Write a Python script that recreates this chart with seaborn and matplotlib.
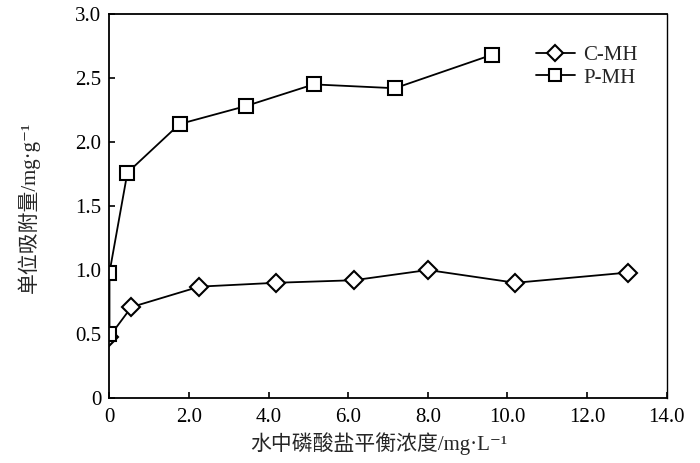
import matplotlib
matplotlib.use("Agg")
import matplotlib.pyplot as plt
import seaborn as sns
import pandas as pd

# ---- data ----
series_names = ["C-MH", "P-MH"]
c_x = [0.0, 0.55, 2.26, 4.18, 6.14, 8.0, 10.2, 13.03]
c_y = [0.48, 0.71, 0.87, 0.90, 0.92, 1.00, 0.90, 0.98]
p_x = [0.0, 0.0, 0.45, 1.76, 3.42, 5.13, 7.17, 9.6]
p_y = [0.50, 0.98, 1.76, 2.14, 2.28, 2.45, 2.42, 2.68]
x_ticks = [0, 2, 4, 6, 8, 10, 12, 14]
x_tick_labels = ["0", "2.0", "4.0", "6.0", "8.0", "10.0", "12.0", "14.0"]
y_ticks = [0, 0.5, 1.0, 1.5, 2.0, 2.5, 3.0]
y_tick_labels = ["0", "0.5", "1.0", "1.5", "2.0", "2.5", "3.0"]
x_label = "水中磷酸盐平衡浓度/mg·L⁻¹"
y_label = "单位吸附量/mg·g⁻¹"

df = pd.concat([
    pd.DataFrame({"x": c_x, "y": c_y, "series": series_names[0]}),
    pd.DataFrame({"x": p_x, "y": p_y, "series": series_names[1]}),
], ignore_index=True)

sns.set_style("ticks")
plt.rcParams["font.family"] = ["Liberation Serif", "DejaVu Serif", "Noto Sans CJK SC"]
plt.rcParams["xtick.direction"] = "in"
plt.rcParams["ytick.direction"] = "in"

fig = plt.figure(figsize=(7.0, 4.63), dpi=100)
ax = fig.add_axes([0.1564, 0.1404, 0.9524 - 0.1564, 0.9698 - 0.1404])

sns.lineplot(
    data=df, x="x", y="y", hue="series", style="series",
    palette={"C-MH": "black", "P-MH": "black"},
    markers={"C-MH": "D", "P-MH": "s"}, dashes=False,
    estimator=None, sort=False, legend=False, ax=ax,
    linewidth=1.3, markersize=9.5, markerfacecolor="white",
    markeredgecolor="black", markeredgewidth=1.5,
)
ax.lines[0].set_markersize(9)
ax.lines[1].set_markersize(10)

ax.set_xlim(0, 14)
ax.set_ylim(0, 3.0)
ax.set_xticks(x_ticks)
ax.set_xticklabels(x_tick_labels)
ax.set_yticks(y_ticks)
ax.set_yticklabels(y_tick_labels)
ax.tick_params(axis="both", labelsize=15, length=4, width=1.2, colors="black")
ax.tick_params(axis="x", pad=7)
ax.tick_params(axis="y", pad=6)
for s in ax.spines.values():
    s.set_linewidth(1.3)
    s.set_color("black")
ax.spines["right"].set_linewidth(1.0)

ax.set_xlabel(x_label, fontsize=15)
ax.set_ylabel(y_label, fontsize=15)
ax.xaxis.set_label_coords(0.484, -0.09)
ax.yaxis.set_label_coords(-0.125, 0.497)

ax.legend(handles=ax.lines[:2], labels=series_names, loc="upper left",
          bbox_to_anchor=(0.731, 0.967), frameon=False, fontsize=15,
          handlelength=1.9, labelspacing=0.15, handletextpad=0.4,
          markerscale=0.85)

fig.savefig("out.png", dpi=100)
